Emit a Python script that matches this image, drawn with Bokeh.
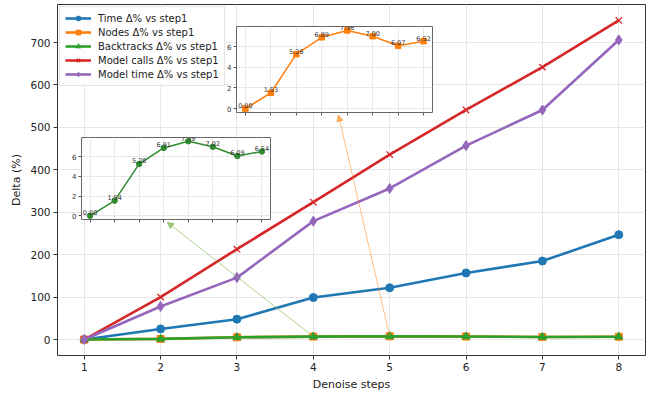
from bokeh.plotting import figure
from bokeh.models import Range1d, FixedTicker, Arrow, NormalHead
from bokeh.layouts import column
from bokeh.embed import file_html
from bokeh.resources import INLINE
from bokeh.core.properties import value

# ---------------- data ----------------
steps = [1, 2, 3, 4, 5, 6, 7, 8]
time_pct = [0, 25, 48, 99, 122, 157, 185, 247]
nodes_pct = [0.00, 1.53, 5.26, 6.89, 7.56, 7.00, 6.07, 6.52]
backtracks_pct = [0.00, 1.54, 5.28, 6.91, 7.59, 7.02, 6.09, 6.54]
calls_pct = [0, 100, 213, 324, 436, 541, 642, 752]
mtime_pct = [0, 78, 146, 279, 356, 457, 541, 706]
series_labels = ["Time Δ% vs step1", "Nodes Δ% vs step1", "Backtracks Δ% vs step1",
                 "Model calls Δ% vs step1", "Model time Δ% vs step1"]
y_ticks = [0, 100, 200, 300, 400, 500, 600, 700]
inset_y_ticks = [0, 2, 4, 6]

FONT = "DejaVu Sans"
colors = ["#1f77b4", "#ff7f0e", "#2ca02c", "#d62728", "#9467bd"]
markers = ["circle", "square", "triangle", "x", "diamond"]
sizes = [8, 7, 8, 9, 10]


def padded(vals, pad=0.05):
    lo, hi = min(vals), max(vals)
    span = hi - lo
    return Range1d(lo - pad * span, hi + pad * span)


# ---------------- main figure ----------------
p_main = figure(width=650, height=393, x_range=padded(steps), y_range=padded(calls_pct),
                output_backend="svg", toolbar_location=None,
                min_border_left=57, min_border_right=5, min_border_top=4, min_border_bottom=36)
p_main.frame_align = False
p_main.background_fill_color = "white"
p_main.border_fill_color = "white"
p_main.outline_line_color = "#333333"
p_main.outline_line_width = 1

all_vals = [time_pct, nodes_pct, backtracks_pct, calls_pct, mtime_pct]
for lab, vals, c, m, s in zip(series_labels, all_vals, colors, markers, sizes):
    p_main.line(steps, vals, line_width=2.6, color=c, legend_label=lab)
    if m == "x":
        p_main.scatter(steps, vals, marker=m, size=s, line_color=c, line_width=1.3, legend_label=lab)
    else:
        p_main.scatter(steps, vals, marker=m, size=s, color=c, legend_label=lab)

p_main.xaxis.ticker = FixedTicker(ticks=steps)
p_main.yaxis.ticker = FixedTicker(ticks=y_ticks)
p_main.xaxis.axis_label = "Denoise steps"
p_main.yaxis.axis_label = "Delta (%)"
for ax in (p_main.xaxis, p_main.yaxis):
    ax.axis_line_color = None
    ax.major_tick_line_color = "#333333"
    ax.major_tick_out = 4
    ax.major_tick_in = 0
    ax.minor_tick_out = 0
    ax.minor_tick_in = 0
    ax.major_label_text_font = FONT
    ax.major_label_text_font_size = "10.5px"
    ax.major_label_text_color = "#222222"
    ax.major_label_standoff = 3
    ax.axis_label_text_font = FONT
    ax.axis_label_text_font_size = "11px"
    ax.axis_label_text_font_style = "normal"
    ax.axis_label_text_color = "#222222"
    ax.axis_label_standoff = 4
p_main.grid.grid_line_color = "#e6e6e6"
p_main.grid.grid_line_width = 1

lg = p_main.legend[0]
lg.location = "top_left"
lg.margin = 2
lg.padding = 5
lg.spacing = 2
lg.label_height = 12
lg.glyph_height = 12
lg.glyph_width = 26
lg.label_standoff = 7
lg.label_text_font = FONT
lg.label_text_font_size = "10px"
lg.label_text_color = "#222222"
lg.border_line_color = "#cccccc"
lg.background_fill_alpha = 0.85

# arrows from data points to the insets
p_main.add_layout(Arrow(x_start=5, y_start=nodes_pct[4], x_end=4.33, y_end=529,
                        line_color="#ff7f0e", line_alpha=0.5, line_width=1,
                        end=NormalHead(size=6, fill_color="#ff7f0e", fill_alpha=0.6,
                                       line_color="#ff7f0e", line_alpha=0.6)))
p_main.add_layout(Arrow(x_start=4, y_start=backtracks_pct[3], x_end=2.09, y_end=276,
                        line_color="#7cb342", line_alpha=0.6, line_width=1,
                        end=NormalHead(size=6, fill_color="#7cb342", fill_alpha=0.7,
                                       line_color="#7cb342", line_alpha=0.7)))


# ---------------- insets ----------------
def make_inset(vals, color, marker, width, height, left, top):
    f = figure(width=width, height=height, x_range=padded(steps), y_range=padded(vals),
               output_backend="svg", toolbar_location=None,
               min_border_left=16, min_border_right=1, min_border_top=1, min_border_bottom=8)
    f.frame_align = False
    f.styles = {"position": "absolute", "left": f"{left}px", "top": f"{top}px"}
    f.background_fill_color = "white"
    f.border_fill_alpha = 0
    f.outline_line_color = "#666666"
    f.outline_line_width = 1
    f.line(steps, vals, line_width=1.5, color=color)
    f.scatter(steps, vals, marker=marker, size=5.5, color=color)
    f.text(x=steps, y=vals, text=[f"{v:.2f}" for v in vals], text_font=value(FONT),
           text_font_size="6.5px", text_align="center", text_baseline="alphabetic",
           y_offset=-3, text_color="#333333")
    f.xaxis.ticker = FixedTicker(ticks=[], minor_ticks=steps)
    f.yaxis.ticker = FixedTicker(ticks=inset_y_ticks)
    for ax in (f.xaxis, f.yaxis):
        ax.axis_line_color = None
        ax.major_tick_line_color = "#555555"
        ax.minor_tick_line_color = "#555555"
        ax.major_tick_out = 3
        ax.major_tick_in = 0
        ax.minor_tick_in = 0
    f.xaxis.minor_tick_out = 3
    f.yaxis.minor_tick_out = 0
    f.yaxis.major_label_text_font = FONT
    f.yaxis.major_label_text_font_size = "7px"
    f.yaxis.major_label_text_color = "#333333"
    f.yaxis.major_label_standoff = 2
    f.ygrid.grid_line_color = "#e8e8e8"
    f.xgrid.grid_line_color = None
    f.xgrid.minor_grid_line_color = "#e8e8e8"
    return f


# frame of the nodes inset: 196x86 at (236, 26); backtracks inset: 189x82 at (81, 137)
inset_nodes = make_inset(nodes_pct, colors[1], "square", 213, 95, 220, 25)
inset_back = make_inset(backtracks_pct, "#2e8b2e", "circle", 206, 91, 65, 136)

p = column(p_main, inset_nodes, inset_back)

with open("out.html", "w") as fh:
    fh.write(file_html(p, INLINE))
